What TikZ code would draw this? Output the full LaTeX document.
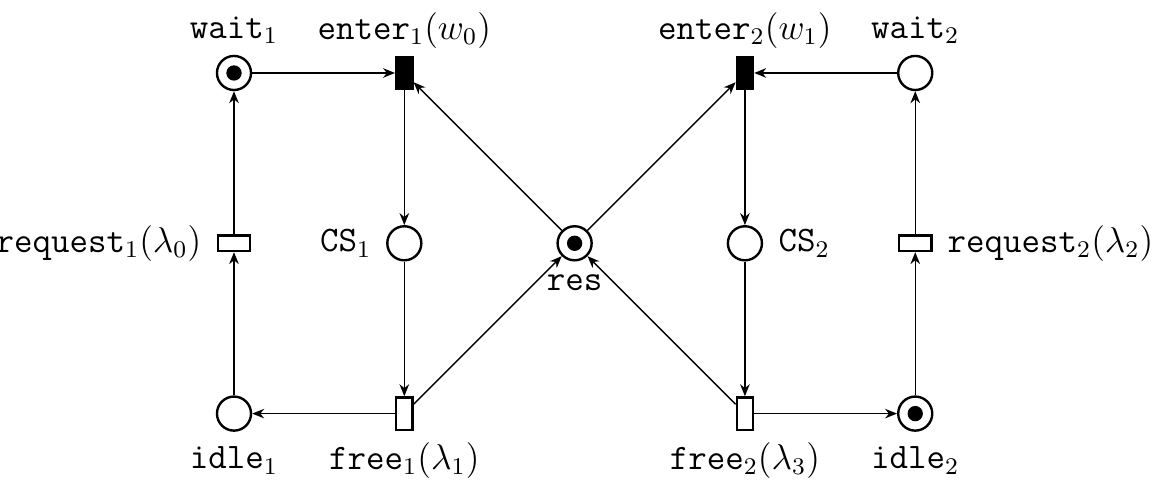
\documentclass[tikz,border=0pt]{standalone}
\usetikzlibrary{arrows.meta,calc}
\begin{document}
\begin{tikzpicture}[
  place/.style={circle,draw,line width=0.8pt,minimum size=0.40cm,inner sep=0pt},
  tokendot/.style={circle,fill,inner sep=0pt,minimum size=0.18cm},
  vtrans/.style={rectangle,draw,line width=0.8pt,minimum width=0.19cm,minimum height=0.38cm,inner sep=0pt},
  htrans/.style={rectangle,draw,line width=0.8pt,minimum width=0.38cm,minimum height=0.18cm,inner sep=0pt},
  filledtrans/.style={vtrans,fill=black},
  lbl/.style={font=\large,inner sep=0pt},
  arc/.style={-{Stealth[length=4pt,width=3.2pt]},line width=0.45pt}
]
\useasboundingbox (-2.748,0.857) rectangle (10.851,-4.803);

% places
\node[place] (wait1) at (0,0) {};
\node[place] (cs1) at (2,-2) {};
\node[place] (idle1) at (0,-4) {};
\node[place] (res) at (4,-2) {};
\node[place] (wait2) at (8,0) {};
\node[place] (cs2) at (6,-2) {};
\node[place] (idle2) at (8,-4) {};

% tokens
\node[tokendot] (tw1) at (wait1) {};
\node[tokendot] (tres) at (res) {};
\node[tokendot] (ti2) at (idle2) {};

% transitions
\node[filledtrans] (enter1) at (2,0) {};
\node[filledtrans] (enter2) at (6,0) {};
\node[htrans] (req1) at (0,-2) {};
\node[htrans] (req2) at (8,-2) {};
\node[vtrans] (free1) at (2,-4) {};
\node[vtrans] (free2) at (6,-4) {};

% labels
\node[lbl] (lw1) at (0,0.50) {\texttt{wait}$_1$};
\node[lbl] (le1) at (2,0.50) {\texttt{enter}$_1(w_0)$};
\node[lbl] (le2) at (6,0.50) {\texttt{enter}$_2(w_1)$};
\node[lbl] (lw2) at (8,0.50) {\texttt{wait}$_2$};
\node[lbl,anchor=east] (lr1) at (-0.376,-2) {\texttt{request}$_1(\lambda_0)$};
\node[lbl,anchor=east] (lc1) at (1.62,-2) {\texttt{CS}$_1$};
\node[lbl] (lres) at (4,-2.46) {\texttt{res}};
\node[lbl,anchor=west] (lc2) at (6.39,-2) {\texttt{CS}$_2$};
\node[lbl,anchor=west] (lr2) at (8.373,-2) {\texttt{request}$_2(\lambda_2)$};
\node[lbl] (li1) at (0,-4.55) {\texttt{idle}$_1$};
\node[lbl] (lf1) at (2,-4.55) {\texttt{free}$_1(\lambda_1)$};
\node[lbl] (lf2) at (6,-4.55) {\texttt{free}$_2(\lambda_3)$};
\node[lbl] (li2) at (8,-4.55) {\texttt{idle}$_2$};

% arcs, process 1
\draw[arc] (wait1) -- (enter1);
\draw[arc] (enter1) -- (cs1);
\draw[arc] (cs1) -- (free1);
\draw[arc] (free1) -- (idle1);
\draw[arc] (idle1) -- (req1);
\draw[arc] (req1) -- (wait1);
% arcs, process 2
\draw[arc] (wait2) -- (enter2);
\draw[arc] (enter2) -- (cs2);
\draw[arc] (cs2) -- (free2);
\draw[arc] (free2) -- (idle2);
\draw[arc] (idle2) -- (req2);
\draw[arc] (req2) -- (wait2);
% shared resource
\draw[arc] (res) -- (enter1);
\draw[arc] (res) -- (enter2);
\draw[arc] (free1) -- (res);
\draw[arc] (free2) -- (res);
\end{tikzpicture}
\end{document}
